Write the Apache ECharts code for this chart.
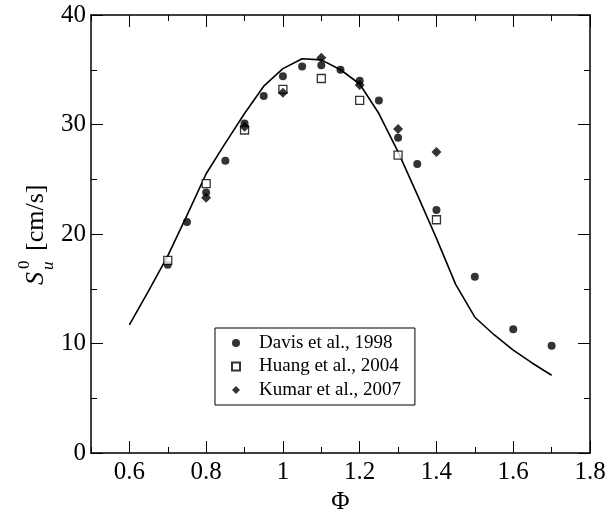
<!DOCTYPE html>
<html>
<head>
<meta charset="utf-8">
<script src="https://cdn.jsdelivr.net/npm/echarts@6/dist/echarts.min.js"></script>
<style>html,body{margin:0;padding:0;background:#fff}#c{width:608px;height:509px}</style>
</head>
<body>
<div id="c"></div>
<script>
// ---- data ----
var phiDavis = [0.7, 0.75, 0.8, 0.85, 0.9, 0.95, 1.0, 1.05, 1.1, 1.15, 1.2, 1.25, 1.3, 1.35, 1.4, 1.5, 1.6, 1.7];
var suDavis  = [17.2, 21.1, 23.8, 26.7, 30.1, 32.6, 34.4, 35.3, 35.4, 35.0, 34.0, 32.2, 28.8, 26.4, 22.2, 16.1, 11.3, 9.8];
var phiHuang = [0.7, 0.8, 0.9, 1.0, 1.1, 1.2, 1.3, 1.4];
var suHuang  = [17.6, 24.6, 29.5, 33.2, 34.2, 32.2, 27.2, 21.3];
var phiKumar = [0.8, 0.9, 1.0, 1.1, 1.2, 1.3, 1.4];
var suKumar  = [23.3, 29.8, 32.9, 36.1, 33.6, 29.6, 27.5];
var phiModel = [0.6, 0.65, 0.7, 0.75, 0.8, 0.85, 0.9, 0.95, 1.0, 1.05, 1.1, 1.15, 1.2, 1.25, 1.3, 1.35, 1.4, 1.45, 1.5, 1.55, 1.6, 1.65, 1.7];
var suModel  = [11.7, 14.8, 18.0, 21.7, 25.5, 28.3, 31.0, 33.5, 35.1, 36.0, 35.9, 35.0, 33.7, 31.0, 27.5, 23.6, 19.6, 15.4, 12.4, 10.8, 9.4, 8.2, 7.1];
// x tick positions every 0.1, listed from the right end (1.8) to the left end (0.5); every other one is labelled
var xTickLabels = ['1.8', '1.7', '1.6', '1.5', '1.4', '1.3', '1.2', '1.1', '1', '0.9', '0.8', '0.7', '0.6', '0.5'];
var legendNames = ['Davis et al., 1998', 'Huang et al., 2004', 'Kumar et al., 2007'];

function pairs(xs, ys) { return xs.map(function (x, i) { return [x, ys[i]]; }); }

var FONT = '"Liberation Serif", "DejaVu Serif", serif';
var chart = echarts.init(document.getElementById('c'), null, { renderer: 'canvas' });

function valX(pos) {
  // short ticks at 0.5, 0.7, ... 1.7 (counted from min)
  return {
    type: 'value', position: pos, min: 0.5, max: 1.8, interval: 0.2,
    splitLine: { show: false },
    axisLine: { show: true, onZero: false, lineStyle: { color: '#000', width: 1.5 } },
    axisTick: { show: true, inside: false, length: -6 },
    axisLabel: { show: false }
  };
}
function catX(pos, labelColor, extra) {
  // long ticks at 1.8, 1.6, ... 0.6 (follow the label interval)
  var a = {
    type: 'category', position: pos, data: xTickLabels, boundaryGap: false, inverse: true,
    splitLine: { show: false },
    axisLine: { show: false, onZero: false, lineStyle: { color: '#000' } },
    axisTick: { show: true, inside: false, length: -12 },
    axisLabel: { show: true, interval: 1, color: labelColor, fontFamily: FONT, fontSize: 25, margin: 7 }
  };
  for (var k in extra) a[k] = extra[k];
  return a;
}
function yAx(pos, showLabel) {
  return {
    type: 'value', position: pos, min: 0, max: 40, interval: 10,
    splitLine: { show: false },
    axisLine: { show: true, onZero: false, lineStyle: { color: '#000', width: 1.5 } },
    axisTick: { show: true, inside: false, length: -12 },
    minorTick: { show: true, splitNumber: 2, length: -6 },
    axisLabel: { show: showLabel, color: '#000', fontFamily: FONT, fontSize: 25, margin: 5 }
  };
}

chart.setOption({
  animation: false,
  backgroundColor: '#fff',
  grid: { left: 91, right: 18, top: 15, bottom: 56, outerBoundsMode: 'none', containLabel: false },
  xAxis: [
    valX('bottom'),
    catX('bottom', '#000', {
      name: 'Φ', nameLocation: 'middle', nameGap: 31,
      nameTextStyle: { color: '#000', fontFamily: FONT, fontSize: 25 }
    }),
    valX('top'),
    catX('top', 'rgba(0,0,0,0)', {})
  ],
  yAxis: [ yAx('left', true), yAx('right', false) ],
  legend: {
    orient: 'vertical', left: 215, top: 328,
    padding: [5, 14, 5, 16],
    borderColor: '#000', borderWidth: 1,
    itemWidth: 8, itemHeight: 8, itemGap: 3.5,
    textStyle: { color: '#000', fontFamily: FONT, fontSize: 19, lineHeight: 20, padding: [0, 0, 0, 14] },
    data: legendNames
  },
  series: [
    { name: 'model', type: 'line', xAxisIndex: 0, yAxisIndex: 0, data: pairs(phiModel, suModel), showSymbol: false, symbol: 'none',
      lineStyle: { color: '#000', width: 1.6 }, z: 2 },
    { name: legendNames[0], type: 'scatter', xAxisIndex: 0, yAxisIndex: 0, data: pairs(phiDavis, suDavis), symbol: 'circle', symbolSize: 8,
      itemStyle: { color: '#000' }, z: 3 },
    { name: legendNames[1], type: 'scatter', xAxisIndex: 0, yAxisIndex: 0, data: pairs(phiHuang, suHuang), symbol: 'rect', symbolSize: 8,
      itemStyle: { color: '#fff', borderColor: '#000', borderWidth: 1.3 }, z: 4 },
    { name: legendNames[2], type: 'scatter', xAxisIndex: 0, yAxisIndex: 0, data: pairs(phiKumar, suKumar), symbol: 'diamond', symbolSize: 10,
      itemStyle: { color: '#000' }, z: 5 }
  ],
  graphic: [{
    type: 'group', x: 36, y: 285, rotation: Math.PI / 2,
    children: [
      { type: 'text', x: 0, y: 0, style: { text: 'S', fontFamily: FONT, fontStyle: 'italic', fontSize: 26, fill: '#000', align: 'left', verticalAlign: 'middle' } },
      { type: 'text', x: 16, y: -11, style: { text: '0', fontFamily: FONT, fontSize: 17, fill: '#000', align: 'left', verticalAlign: 'middle' } },
      { type: 'text', x: 15, y: 13, style: { text: 'u', fontFamily: FONT, fontStyle: 'italic', fontSize: 17, fill: '#000', align: 'left', verticalAlign: 'middle' } },
      { type: 'text', x: 34, y: 0, style: { text: '[cm/s]', fontFamily: FONT, fontSize: 26, fill: '#000', align: 'left', verticalAlign: 'middle' } }
    ]
  }]
});
</script>
</body>
</html>
